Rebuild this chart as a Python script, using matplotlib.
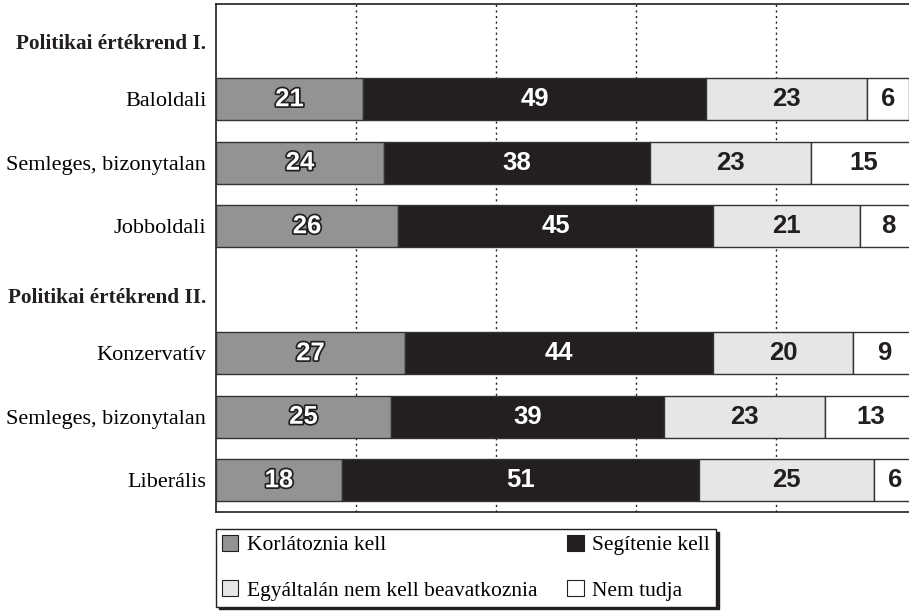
import matplotlib.pyplot as plt
import matplotlib.patheffects as pe
from matplotlib.patches import Patch

# data (percent)
groups = ["Politikai értékrend I.", "Politikai értékrend II."]
categories = ["Baloldali", "Semleges, bizonytalan", "Jobboldali",
              "Konzervatív", "Semleges, bizonytalan", "Liberális"]
korlatoznia = [21, 24, 26, 27, 25, 18]
segitenie = [49, 38, 45, 44, 39, 51]
egyaltalan = [23, 23, 21, 20, 23, 25]
nem_tudja = [6, 15, 8, 9, 13, 6]

series_names = ["Korlátoznia kell", "Segítenie kell",
                "Egyáltalán nem kell beavatkoznia", "Nem tudja"]
colors = ["#939393", "#231f20", "#e6e6e6", "#ffffff"]
text_colors = ["white", "white", "#231f20", "#231f20"]

# rows: header, 3 bars, header, 3 bars
header_rows = [0, 4]
bar_rows = [1, 2, 3, 5, 6, 7]

W, H = 909, 611
fig = plt.figure(figsize=(W / 100, H / 100), dpi=100)
ax = fig.add_axes([216 / W, 1 - 512 / H, 693 / W, 508 / H])

serif = ["Liberation Serif", "DejaVu Serif"]
sans = ["Liberation Sans", "DejaVu Sans"]

left = [0] * len(categories)
for i, vals in enumerate([korlatoznia, segitenie, egyaltalan, nem_tudja]):
    ax.barh(bar_rows, vals, left=left, height=0.66, color=colors[i],
            edgecolor="#333333", linewidth=1, zorder=3)
    for r, l, v in zip(bar_rows, left, vals):
        t = ax.text(l + v / 2, r, str(v), ha="center", va="center",
                    fontsize=18.5, fontweight="bold", family=sans,
                    color=text_colors[i], zorder=5)
        if i == 0:
            t.set_path_effects([pe.Stroke(linewidth=2.5, foreground="#231f20"),
                                pe.Normal()])
    left = [a + b for a, b in zip(left, vals)]

ax.set_xlim(0, 99)
ax.set_ylim(7.5, -0.5)

for x in [20, 40, 60, 80]:
    ax.axvline(x, color="#231f20", linestyle=(0, (1.5, 2.5)), linewidth=1, zorder=1)

ax.set_yticks(bar_rows)
ax.set_yticklabels(categories, family=serif, fontsize=16)
ax.tick_params(axis="y", length=0, pad=7)
ax.set_xticks([])

for r, g in zip(header_rows, groups):
    ax.annotate(g, xy=(0, r + 0.13), xycoords=("axes fraction", "data"),
                xytext=(-7, 0), textcoords="offset points", ha="right", va="center",
                fontsize=15.3, fontweight="bold", family=serif, color="#231f20")

for s in ["top", "left", "bottom"]:
    ax.spines[s].set_color("#231f20")
    ax.spines[s].set_linewidth(1.2)
ax.spines["right"].set_visible(False)

handles = [Patch(facecolor=colors[k], edgecolor="#231f20", linewidth=0.8, label=series_names[k])
           for k in [0, 2, 1, 3]]
leg = fig.legend(handles=handles, ncol=2, loc="upper left",
                 bbox_to_anchor=(216 / W, 1 - 529 / H), borderaxespad=0,
                 prop={"family": serif, "size": 15.5}, frameon=True, fancybox=False,
                 shadow={"color": "#231f20", "alpha": 1}, edgecolor="#231f20",
                 handlelength=0.75, handleheight=0.75, handletextpad=0.4,
                 labelspacing=1.15, columnspacing=1.4, borderpad=0.28)
leg.get_frame().set_linewidth(1)

fig.savefig("out.png", dpi=100)
